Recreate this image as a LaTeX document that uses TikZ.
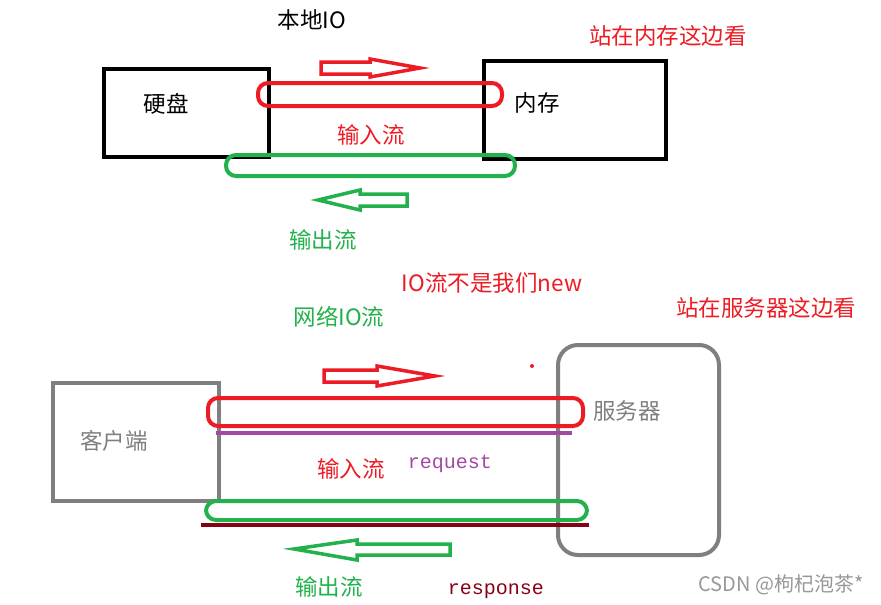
\documentclass[tikz,border=0pt]{standalone}
\usepackage{fontspec}
\newfontfamily\cjk{Noto Sans CJK SC}
\setmonofont{Liberation Mono}
\definecolor{pred}{HTML}{ED1C24}
\definecolor{pgreen}{HTML}{22B14C}
\definecolor{pgray}{HTML}{7F7F7F}
\definecolor{ppurple}{HTML}{A349A4}
\definecolor{pdark}{HTML}{880015}
\begin{document}
\begin{tikzpicture}[x=1pt,y=-1pt,
  lbl/.style={inner sep=0pt,font=\cjk\fontsize{22.5}{26}\selectfont},
  mono/.style={inner sep=0pt,font=\ttfamily\fontsize{20}{22}\selectfont},
  band/.style={line width=4pt,rounded corners=10pt},
  hollow/.style={line width=3.5pt,line join=miter}]
\useasboundingbox (0,0) rectangle (881,605);
\fill[white] (0,0) rectangle (881,605);

% ---------- local IO ----------
\node[lbl,text=black] (t1) at (312,20) {本地IO};
\node[lbl,text=pred] (t2) at (668,36) {站在内存这边看};

\draw[line width=4pt] (104,69) rectangle (269,157);
\node[lbl] (disk) at (166,104) {硬盘};
\draw[line width=4pt] (484,61) rectangle (666,159);
\node[lbl] (mem) at (537,103) {内存};

\draw[hollow,pred] (321,62) -- (370,62) -- (370,59) -- (420,68) -- (370,77) -- (370,74) -- (321,74) -- cycle;
\draw[band,pred] (258,83) rectangle (502,106);
\node[lbl,text=pred] (in1) at (371,135) {输入流};
\draw[band,pgreen] (226,155) rectangle (515,176);
\draw[hollow,pgreen] (318,200) -- (360,190) -- (360,194) -- (407,194) -- (407,206) -- (360,206) -- (360,210) -- cycle;
\node[lbl,text=pgreen] (out1) at (323,240) {输出流};

% ---------- network IO ----------
\node[lbl,text=pred] (t3) at (492,283) {IO流不是我们new};
\node[lbl,text=pgreen] (t4) at (339,317) {网络IO流};
\node[lbl,text=pred] (t5) at (766,308) {站在服务器这边看};
\fill[pred] (532,366) circle (2);

\draw[line width=4pt,pgray] (53,383) rectangle (219,501);
\node[lbl,text=pgray] (cli) at (114,441) {客户端};
\draw[line width=4pt,pgray,rounded corners=20pt] (558,345) rectangle (719,555);
\node[lbl,text=pgray] (srv) at (627,411) {服务器};

\draw[hollow,pred] (324,370) -- (377,370) -- (377,366) -- (435,376) -- (377,386) -- (377,382) -- (324,382) -- cycle;
\draw[band,pred] (208,398) rectangle (583,426);
\draw[line width=3.5pt,ppurple] (216,433) -- (572,433);
\node[lbl,text=pred] (in2) at (351,469) {输入流};
\node[mono,text=ppurple] (req) at (450,464) {request};

\draw[band,pgreen] (206,501) rectangle (587,520);
\draw[line width=3.5pt,pdark] (201,525) -- (589,525);
\draw[hollow,pgreen] (294,549) -- (357,540) -- (357,544) -- (450,544) -- (450,555) -- (357,555) -- (357,560) -- cycle;
\node[lbl,text=pgreen] (out2) at (329,587) {输出流};
\node[mono,text=pdark] (resp) at (496,591) {response};

\node[inner sep=0pt,text=pgray!80,font=\cjk\fontsize{20}{24}\selectfont] (wm) at (781,585) {CSDN @枸杞泡茶*};
\end{tikzpicture}
\end{document}
